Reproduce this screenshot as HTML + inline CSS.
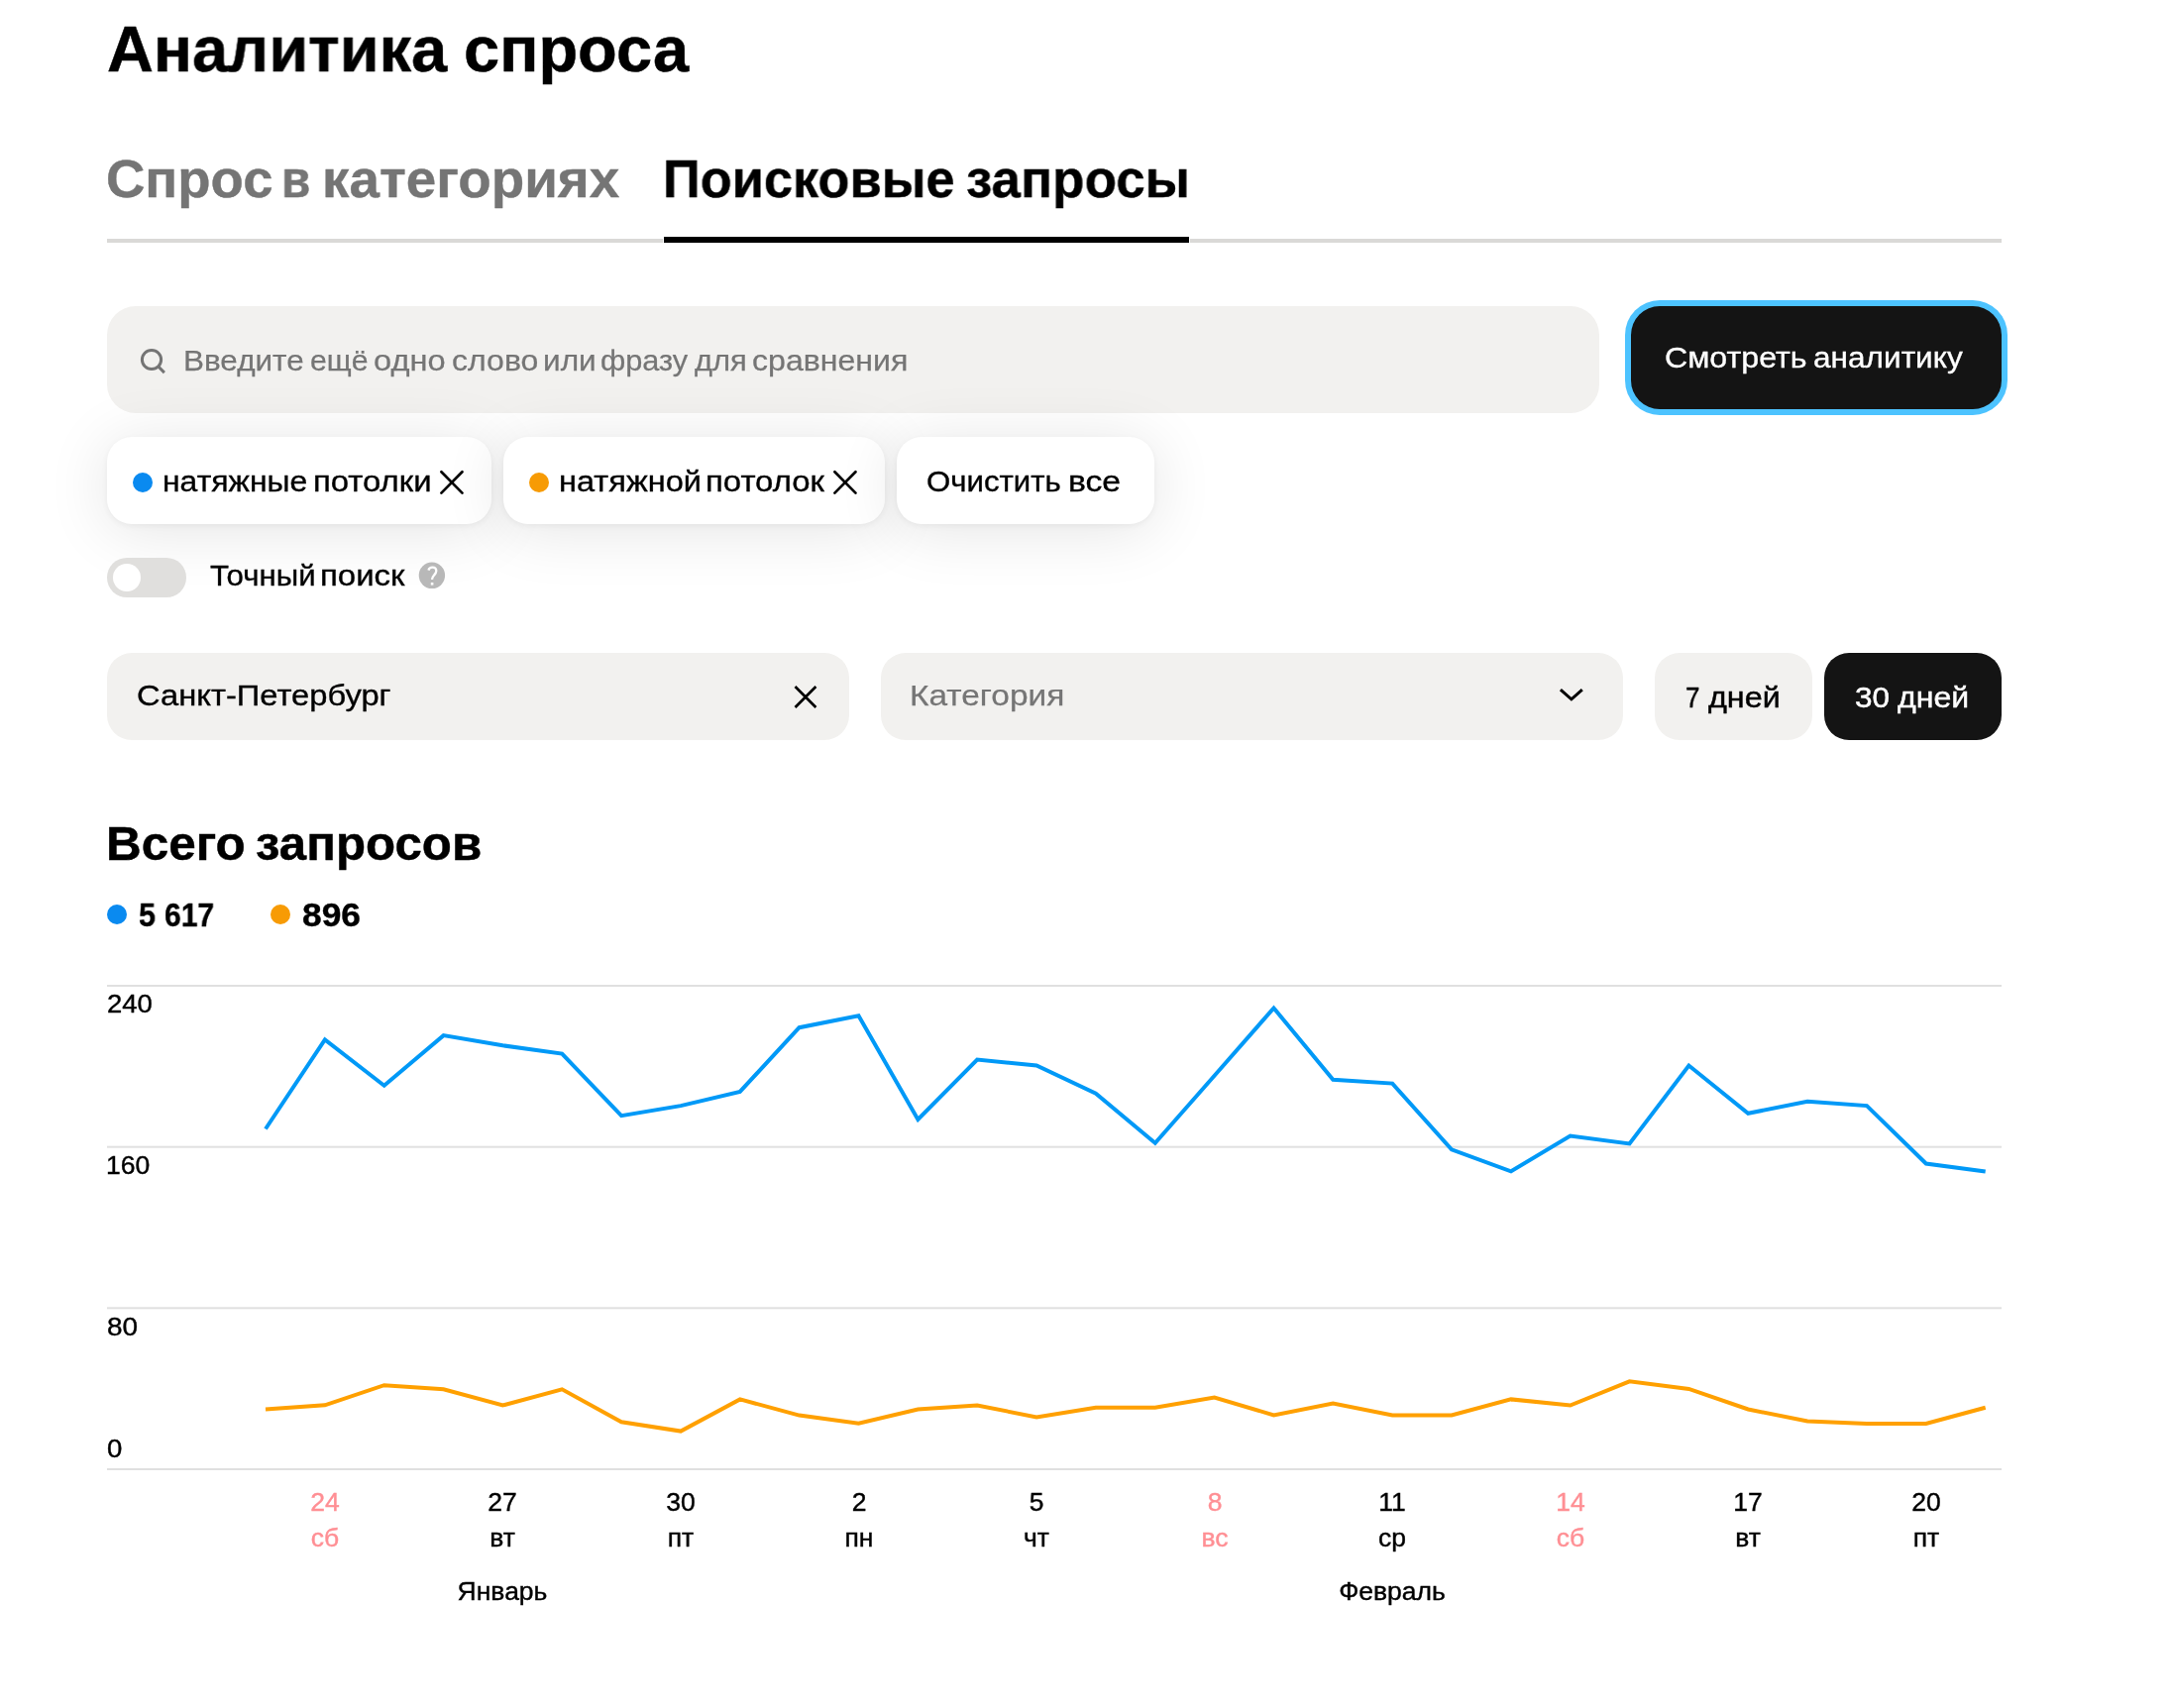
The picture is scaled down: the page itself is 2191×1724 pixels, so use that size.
<!DOCTYPE html>
<html lang="ru"><head><meta charset="utf-8"><title>Аналитика спроса</title>
<style>
html,body{margin:0;padding:0;background:#fff;}
body{width:2191px;height:1724px;position:relative;overflow:hidden;font-family:"Liberation Sans", sans-serif;}
.t{position:absolute;white-space:nowrap;line-height:1;will-change:transform;}
.c{position:absolute;white-space:nowrap;line-height:1;transform:translateX(-50%);will-change:transform;}
.b{position:absolute;box-sizing:border-box;}
.g{position:absolute;left:108px;width:1912px;height:2px;background:#d9d9d9;}
.chip{position:absolute;top:441px;height:88px;border-radius:25px;background:#fff;box-shadow:0 2px 6px rgba(0,0,0,.05),0 6px 64px rgba(0,0,0,.11);}
.dot{position:absolute;width:20px;height:20px;border-radius:50%;}
svg{position:absolute;overflow:visible;}
</style></head><body>

<div class="b" style="left:108px;top:241px;width:561px;height:4px;background:#dad9d7"></div>
<div class="b" style="left:670px;top:239px;width:530px;height:6px;background:#000"></div>
<div class="b" style="left:1201px;top:241px;width:819px;height:4px;background:#dad9d7"></div>
<div class="b" style="left:108px;top:309px;width:1506px;height:108px;border-radius:29px;background:#f2f1ef"></div>
<svg style="left:0;top:0" width="2191" height="1724"><g fill="none" stroke="#747474" stroke-width="3" stroke-linecap="butt"><circle cx="153" cy="363" r="9.6"/><path d="M159.6 369.8 L165.9 376.1"/></g></svg>
<div class="b" style="left:1640px;top:303px;width:386px;height:116px;border-radius:35px;background:#4dc3ff"></div>
<div class="b" style="left:1646px;top:309px;width:374px;height:104px;border-radius:29px;background:#141414"></div>
<div class="chip" style="left:108px;width:388px"></div>
<div class="chip" style="left:508px;width:385px"></div>
<div class="chip" style="left:905px;width:260px"></div>
<div class="dot" style="left:134px;top:477px;background:#0a8af0"></div>
<div class="dot" style="left:534px;top:477px;background:#f79b05"></div>
<div class="b" style="left:108px;top:563px;width:80px;height:40px;border-radius:20px;background:#e0dfdd"></div>
<div class="b" style="left:114px;top:569px;width:28px;height:28px;border-radius:14px;background:#fff"></div>
<svg style="left:0;top:0" width="2191" height="1724"><circle cx="435.9" cy="580.8" r="13.2" fill="#b8b8b8"/><path d="M432.4 575.6 C433 573.5 434.6 572.7 436.4 572.7 C438.7 572.7 440.3 574.2 440.3 576.3 C440.3 578.3 439 579.6 437.9 580.8 C436.8 582 436.1 583 436 585" fill="none" stroke="#fff" stroke-width="2.3" stroke-linecap="butt"/><rect x="434.8" y="588" width="2.6" height="2.6" fill="#fff"/></svg>
<div class="b" style="left:108px;top:659px;width:749px;height:88px;border-radius:25px;background:#f2f1ef"></div>
<div class="b" style="left:889px;top:659px;width:749px;height:88px;border-radius:25px;background:#f2f1ef"></div>
<div class="b" style="left:1670px;top:659px;width:159px;height:88px;border-radius:25px;background:#f2f1ef"></div>
<div class="b" style="left:1841px;top:659px;width:179px;height:88px;border-radius:25px;background:#141414"></div>
<svg style="left:0;top:0" width="2191" height="1724"><g fill="none" stroke="#000" stroke-width="2.7" stroke-linecap="round"><path d="M445.4 476.3 L466.5 497.6 M466.5 476.3 L445.4 497.6"/><path d="M842.4 476.3 L863.5 497.6 M863.5 476.3 L842.4 497.6"/><path d="M802.5 693 L823.4 714 M823.4 693 L802.5 714" stroke-linecap="butt"/><path d="M1574.9 696.2 L1585.9 705.8 L1596.8 696.2" stroke-width="3" stroke-linecap="butt" stroke-linejoin="miter"/></g></svg>
<div class="dot" style="left:108px;top:913px;background:#0a8af0"></div>
<div class="dot" style="left:273px;top:913px;background:#f79b05"></div>
<svg style="left:0;top:0" width="2191" height="1724"><g fill="#e0e0e0"><rect x="108" y="994" width="1912" height="2"/><rect x="108" y="1156.67" width="1912" height="2"/><rect x="108" y="1319.33" width="1912" height="2"/><rect x="108" y="1482" width="1912" height="2"/></g></svg>
<svg style="left:0;top:0" width="2191" height="1724"><g fill="none" stroke-width="4" stroke-linejoin="miter" stroke-linecap="butt"><polyline stroke="#0099f7" points="268.0,1139.5 327.9,1049.4 387.7,1095.8 447.6,1045.1 507.4,1055.3 567.2,1063.6 627.1,1126.2 687.0,1116.1 746.8,1101.9 806.6,1037.2 866.5,1025.2 926.4,1129.9 986.2,1069.6 1046.1,1075.5 1105.9,1103.7 1165.8,1153.8 1225.6,1085.7 1285.5,1017.5 1345.3,1089.7 1405.2,1093.6 1465.0,1160.3 1524.9,1182.4 1584.7,1146.5 1644.5,1154.4 1704.4,1075.5 1764.2,1123.8 1824.1,1111.8 1884.0,1116.1 1943.8,1174.5 2003.7,1182.4"/><polyline stroke="#ffa000" points="268.0,1422.5 327.9,1418.3 387.7,1398.2 447.6,1402.3 507.4,1418.5 567.2,1402.3 627.1,1435.3 687.0,1444.6 746.8,1412.4 806.6,1428.6 866.5,1436.7 926.4,1422.5 986.2,1418.5 1046.1,1430.4 1105.9,1420.7 1165.8,1420.7 1225.6,1410.5 1285.5,1428.4 1345.3,1416.6 1405.2,1428.4 1465.0,1428.4 1524.9,1412.4 1584.7,1418.5 1644.5,1394.3 1704.4,1401.9 1764.2,1422.5 1824.1,1434.5 1884.0,1436.9 1943.8,1436.9 2003.7,1420.7"/></g></svg>
<div class="t" id="city" style="left:138.2px;top:687.2px;font-size:30px;font-weight:400;color:#000;letter-spacing:0.000px;-webkit-text-stroke:0.35px #000;transform-origin:0 0;transform:scaleX(1.0902)">Санкт-Петербург</div>
<div class="t" id="cat" style="left:918.0px;top:687.2px;font-size:30px;font-weight:400;color:#757575;letter-spacing:0.000px;-webkit-text-stroke:0.25px #757575;transform-origin:0 0;transform:scaleX(1.1140)">Категория</div>
<div class="t" id="lg1a" style="left:140.2px;top:906.9px;font-size:33.5px;font-weight:700;color:#000;letter-spacing:0.000px;-webkit-text-stroke:0.4px #000;transform-origin:0 0;transform:scaleX(0.9121)">5</div>
<div class="t" id="lg1b" style="left:166.0px;top:906.9px;font-size:33.5px;font-weight:700;color:#000;letter-spacing:0.000px;-webkit-text-stroke:0.4px #000;transform-origin:0 0;transform:scaleX(0.8967)">617</div>
<div class="t" id="lg2" style="left:305.0px;top:906.9px;font-size:33.5px;font-weight:700;color:#000;letter-spacing:0.000px;-webkit-text-stroke:0.4px #000;transform-origin:0 0;transform:scaleX(1.0557)">896</div>
<div class="t" id="y240" style="left:107.8px;top:1000.4px;font-size:26.5px;font-weight:400;color:#000;letter-spacing:0.000px;-webkit-text-stroke:0.4px #000;transform-origin:0 0;transform:scaleX(1.0359)">240</div>
<div class="t" id="y160" style="left:106.8px;top:1163.1px;font-size:26.5px;font-weight:400;color:#000;letter-spacing:0.000px;-webkit-text-stroke:0.4px #000;transform-origin:0 0;transform:scaleX(1.0012)">160</div>
<div class="t" id="y80" style="left:107.6px;top:1325.6px;font-size:26.5px;font-weight:400;color:#000;letter-spacing:0.000px;-webkit-text-stroke:0.4px #000;transform-origin:0 0;transform:scaleX(1.0541)">80</div>
<div class="t" id="y0" style="left:107.6px;top:1448.6px;font-size:26.5px;font-weight:400;color:#000;letter-spacing:0.000px;-webkit-text-stroke:0.4px #000;transform-origin:0 0;transform:scaleX(1.0415)">0</div>
<div class="t" id="title_0" style="left:108.2px;top:17.2px;font-size:65px;font-weight:700;color:#000;letter-spacing:0.000px;-webkit-text-stroke:0.5px #000;transform-origin:0 0;transform:scaleX(0.9971)">Аналитика</div>
<div class="t" id="title_1" style="left:467.8px;top:17.2px;font-size:65px;font-weight:700;color:#000;letter-spacing:0.000px;-webkit-text-stroke:0.5px #000;transform-origin:0 0;transform:scaleX(1.0000)">спроса</div>
<div class="t" id="tab1_0" style="left:106.6px;top:154.1px;font-size:54.5px;font-weight:700;color:#757575;letter-spacing:0.000px;-webkit-text-stroke:0.4px #757575;transform-origin:0 0;transform:scaleX(1.0001)">Спрос</div>
<div class="t" id="tab1_1" style="left:284.0px;top:154.1px;font-size:54.5px;font-weight:700;color:#757575;letter-spacing:0.000px;-webkit-text-stroke:0.4px #757575;transform-origin:0 0;transform:scaleX(0.8758)">в</div>
<div class="t" id="tab1_2" style="left:325.2px;top:154.1px;font-size:54.5px;font-weight:700;color:#757575;letter-spacing:0.000px;-webkit-text-stroke:0.4px #757575;transform-origin:0 0;transform:scaleX(1.0051)">категориях</div>
<div class="t" id="tab2_0" style="left:669.4px;top:154.1px;font-size:54.5px;font-weight:700;color:#000;letter-spacing:0.000px;-webkit-text-stroke:0.4px #000;transform-origin:0 0;transform:scaleX(0.9608)">Поисковые</div>
<div class="t" id="tab2_1" style="left:974.6px;top:154.1px;font-size:54.5px;font-weight:700;color:#000;letter-spacing:0.000px;-webkit-text-stroke:0.4px #000;transform-origin:0 0;transform:scaleX(0.9723)">запросы</div>
<div class="t" id="h2_0" style="left:107.2px;top:828.3px;font-size:47.6px;font-weight:700;color:#000;letter-spacing:0.000px;-webkit-text-stroke:0.45px #000;transform-origin:0 0;transform:scaleX(1.0382)">Всего</div>
<div class="t" id="h2_1" style="left:257.8px;top:828.3px;font-size:47.6px;font-weight:700;color:#000;letter-spacing:0.000px;-webkit-text-stroke:0.45px #000;transform-origin:0 0;transform:scaleX(1.0344)">запросов</div>
<div class="t" id="btn_0" style="left:1680.2px;top:346.4px;font-size:30px;font-weight:400;color:#fff;letter-spacing:0.000px;-webkit-text-stroke:0.35px #fff;transform-origin:0 0;transform:scaleX(1.0726)">Смотреть</div>
<div class="t" id="btn_1" style="left:1830.4px;top:346.4px;font-size:30px;font-weight:400;color:#fff;letter-spacing:0.000px;-webkit-text-stroke:0.35px #fff;transform-origin:0 0;transform:scaleX(1.0528)">аналитику</div>
<div class="t" id="chip1_0" style="left:164.2px;top:470.7px;font-size:30px;font-weight:400;color:#000;letter-spacing:0.000px;-webkit-text-stroke:0.35px #000;transform-origin:0 0;transform:scaleX(1.0635)">натяжные</div>
<div class="t" id="chip1_1" style="left:316.0px;top:470.7px;font-size:30px;font-weight:400;color:#000;letter-spacing:0.000px;-webkit-text-stroke:0.35px #000;transform-origin:0 0;transform:scaleX(1.0953)">потолки</div>
<div class="t" id="chip2_0" style="left:564.4px;top:470.7px;font-size:30px;font-weight:400;color:#000;letter-spacing:0.000px;-webkit-text-stroke:0.35px #000;transform-origin:0 0;transform:scaleX(1.0853)">натяжной</div>
<div class="t" id="chip2_1" style="left:712.0px;top:470.7px;font-size:30px;font-weight:400;color:#000;letter-spacing:0.000px;-webkit-text-stroke:0.35px #000;transform-origin:0 0;transform:scaleX(1.0973)">потолок</div>
<div class="t" id="chip3_0" style="left:935.2px;top:470.7px;font-size:30px;font-weight:400;color:#000;letter-spacing:0.000px;-webkit-text-stroke:0.35px #000;transform-origin:0 0;transform:scaleX(1.0391)">Очистить</div>
<div class="t" id="chip3_1" style="left:1078.0px;top:470.7px;font-size:30px;font-weight:400;color:#000;letter-spacing:0.000px;-webkit-text-stroke:0.35px #000;transform-origin:0 0;transform:scaleX(1.1227)">все</div>
<div class="t" id="exact_0" style="left:212.0px;top:566.2px;font-size:30px;font-weight:400;color:#000;letter-spacing:0.000px;-webkit-text-stroke:0.35px #000;transform-origin:0 0;transform:scaleX(1.0396)">Точный</div>
<div class="t" id="exact_1" style="left:323.2px;top:566.2px;font-size:30px;font-weight:400;color:#000;letter-spacing:0.000px;-webkit-text-stroke:0.35px #000;transform-origin:0 0;transform:scaleX(1.0987)">поиск</div>
<div class="t" id="d7_0" style="left:1701.0px;top:688.6px;font-size:30px;font-weight:400;color:#000;letter-spacing:0.000px;-webkit-text-stroke:0.45px #000;transform-origin:0 0;transform:scaleX(0.8605)">7</div>
<div class="t" id="d7_1" style="left:1723.6px;top:688.6px;font-size:30px;font-weight:400;color:#000;letter-spacing:0.000px;-webkit-text-stroke:0.45px #000;transform-origin:0 0;transform:scaleX(1.0771)">дней</div>
<div class="t" id="d30_0" style="left:1872.0px;top:688.6px;font-size:30px;font-weight:400;color:#fff;letter-spacing:0.000px;-webkit-text-stroke:0.45px #fff;transform-origin:0 0;transform:scaleX(1.0493)">30</div>
<div class="t" id="d30_1" style="left:1914.8px;top:688.6px;font-size:30px;font-weight:400;color:#fff;letter-spacing:0.000px;-webkit-text-stroke:0.45px #fff;transform-origin:0 0;transform:scaleX(1.0682)">дней</div>
<div class="t" id="ph_0" style="left:185.2px;top:348.6px;font-size:30px;font-weight:400;color:#757575;letter-spacing:0.000px;-webkit-text-stroke:0.25px #757575;transform-origin:0 0;transform:scaleX(1.0487)">Введите</div>
<div class="t" id="ph_1" style="left:313.4px;top:348.6px;font-size:30px;font-weight:400;color:#757575;letter-spacing:0.000px;-webkit-text-stroke:0.25px #757575;transform-origin:0 0;transform:scaleX(1.0097)">ещё</div>
<div class="t" id="ph_2" style="left:377.2px;top:348.6px;font-size:30px;font-weight:400;color:#757575;letter-spacing:0.000px;-webkit-text-stroke:0.25px #757575;transform-origin:0 0;transform:scaleX(1.0863)">одно</div>
<div class="t" id="ph_3" style="left:455.6px;top:348.6px;font-size:30px;font-weight:400;color:#757575;letter-spacing:0.000px;-webkit-text-stroke:0.25px #757575;transform-origin:0 0;transform:scaleX(1.0688)">слово</div>
<div class="t" id="ph_4" style="left:548.4px;top:348.6px;font-size:30px;font-weight:400;color:#757575;letter-spacing:0.000px;-webkit-text-stroke:0.25px #757575;transform-origin:0 0;transform:scaleX(1.0525)">или</div>
<div class="t" id="ph_5" style="left:606.4px;top:348.6px;font-size:30px;font-weight:400;color:#757575;letter-spacing:0.000px;-webkit-text-stroke:0.25px #757575;transform-origin:0 0;transform:scaleX(1.0235)">фразу</div>
<div class="t" id="ph_6" style="left:701.4px;top:348.6px;font-size:30px;font-weight:400;color:#757575;letter-spacing:0.000px;-webkit-text-stroke:0.25px #757575;transform-origin:0 0;transform:scaleX(1.0310)">для</div>
<div class="t" id="ph_7" style="left:759.4px;top:348.6px;font-size:30px;font-weight:400;color:#757575;letter-spacing:0.000px;-webkit-text-stroke:0.25px #757575;transform-origin:0 0;transform:scaleX(1.0695)">сравнения</div>
<div class="c" id="xd1" style="left:327.9px;top:1503.4px;font-size:26.5px;font-weight:400;color:#ff8f94;-webkit-text-stroke:0.4px #ff8f94">24</div>
<div class="c" id="xw1" style="left:327.9px;top:1539.2px;font-size:26.5px;font-weight:400;color:#ff8f94;-webkit-text-stroke:0.4px #ff8f94">сб</div>
<div class="c" id="xd4" style="left:507.4px;top:1503.4px;font-size:26.5px;font-weight:400;color:#000;-webkit-text-stroke:0.4px #000">27</div>
<div class="c" id="xw4" style="left:507.4px;top:1539.2px;font-size:26.5px;font-weight:400;color:#000;-webkit-text-stroke:0.4px #000">вт</div>
<div class="c" id="xd7" style="left:687.0px;top:1503.4px;font-size:26.5px;font-weight:400;color:#000;-webkit-text-stroke:0.4px #000">30</div>
<div class="c" id="xw7" style="left:687.0px;top:1539.2px;font-size:26.5px;font-weight:400;color:#000;-webkit-text-stroke:0.4px #000">пт</div>
<div class="c" id="xd10" style="left:866.5px;top:1503.4px;font-size:26.5px;font-weight:400;color:#000;-webkit-text-stroke:0.4px #000">2</div>
<div class="c" id="xw10" style="left:866.5px;top:1539.2px;font-size:26.5px;font-weight:400;color:#000;-webkit-text-stroke:0.4px #000">пн</div>
<div class="c" id="xd13" style="left:1046.1px;top:1503.4px;font-size:26.5px;font-weight:400;color:#000;-webkit-text-stroke:0.4px #000">5</div>
<div class="c" id="xw13" style="left:1046.1px;top:1539.2px;font-size:26.5px;font-weight:400;color:#000;-webkit-text-stroke:0.4px #000">чт</div>
<div class="c" id="xd16" style="left:1225.6px;top:1503.4px;font-size:26.5px;font-weight:400;color:#ff8f94;-webkit-text-stroke:0.4px #ff8f94">8</div>
<div class="c" id="xw16" style="left:1225.6px;top:1539.2px;font-size:26.5px;font-weight:400;color:#ff8f94;-webkit-text-stroke:0.4px #ff8f94">вс</div>
<div class="c" id="xd19" style="left:1405.2px;top:1503.4px;font-size:26.5px;font-weight:400;color:#000;-webkit-text-stroke:0.4px #000">11</div>
<div class="c" id="xw19" style="left:1405.2px;top:1539.2px;font-size:26.5px;font-weight:400;color:#000;-webkit-text-stroke:0.4px #000">ср</div>
<div class="c" id="xd22" style="left:1584.7px;top:1503.4px;font-size:26.5px;font-weight:400;color:#ff8f94;-webkit-text-stroke:0.4px #ff8f94">14</div>
<div class="c" id="xw22" style="left:1584.7px;top:1539.2px;font-size:26.5px;font-weight:400;color:#ff8f94;-webkit-text-stroke:0.4px #ff8f94">сб</div>
<div class="c" id="xd25" style="left:1764.2px;top:1503.4px;font-size:26.5px;font-weight:400;color:#000;-webkit-text-stroke:0.4px #000">17</div>
<div class="c" id="xw25" style="left:1764.2px;top:1539.2px;font-size:26.5px;font-weight:400;color:#000;-webkit-text-stroke:0.4px #000">вт</div>
<div class="c" id="xd28" style="left:1943.8px;top:1503.4px;font-size:26.5px;font-weight:400;color:#000;-webkit-text-stroke:0.4px #000">20</div>
<div class="c" id="xw28" style="left:1943.8px;top:1539.2px;font-size:26.5px;font-weight:400;color:#000;-webkit-text-stroke:0.4px #000">пт</div>
<div class="c" id="m1" style="left:507.4px;top:1593.1px;font-size:26.5px;font-weight:400;color:#000;-webkit-text-stroke:0.4px #000">Январь</div>
<div class="c" id="m2" style="left:1405.2px;top:1593.1px;font-size:26.5px;font-weight:400;color:#000;-webkit-text-stroke:0.4px #000">Февраль</div>
</body></html>
